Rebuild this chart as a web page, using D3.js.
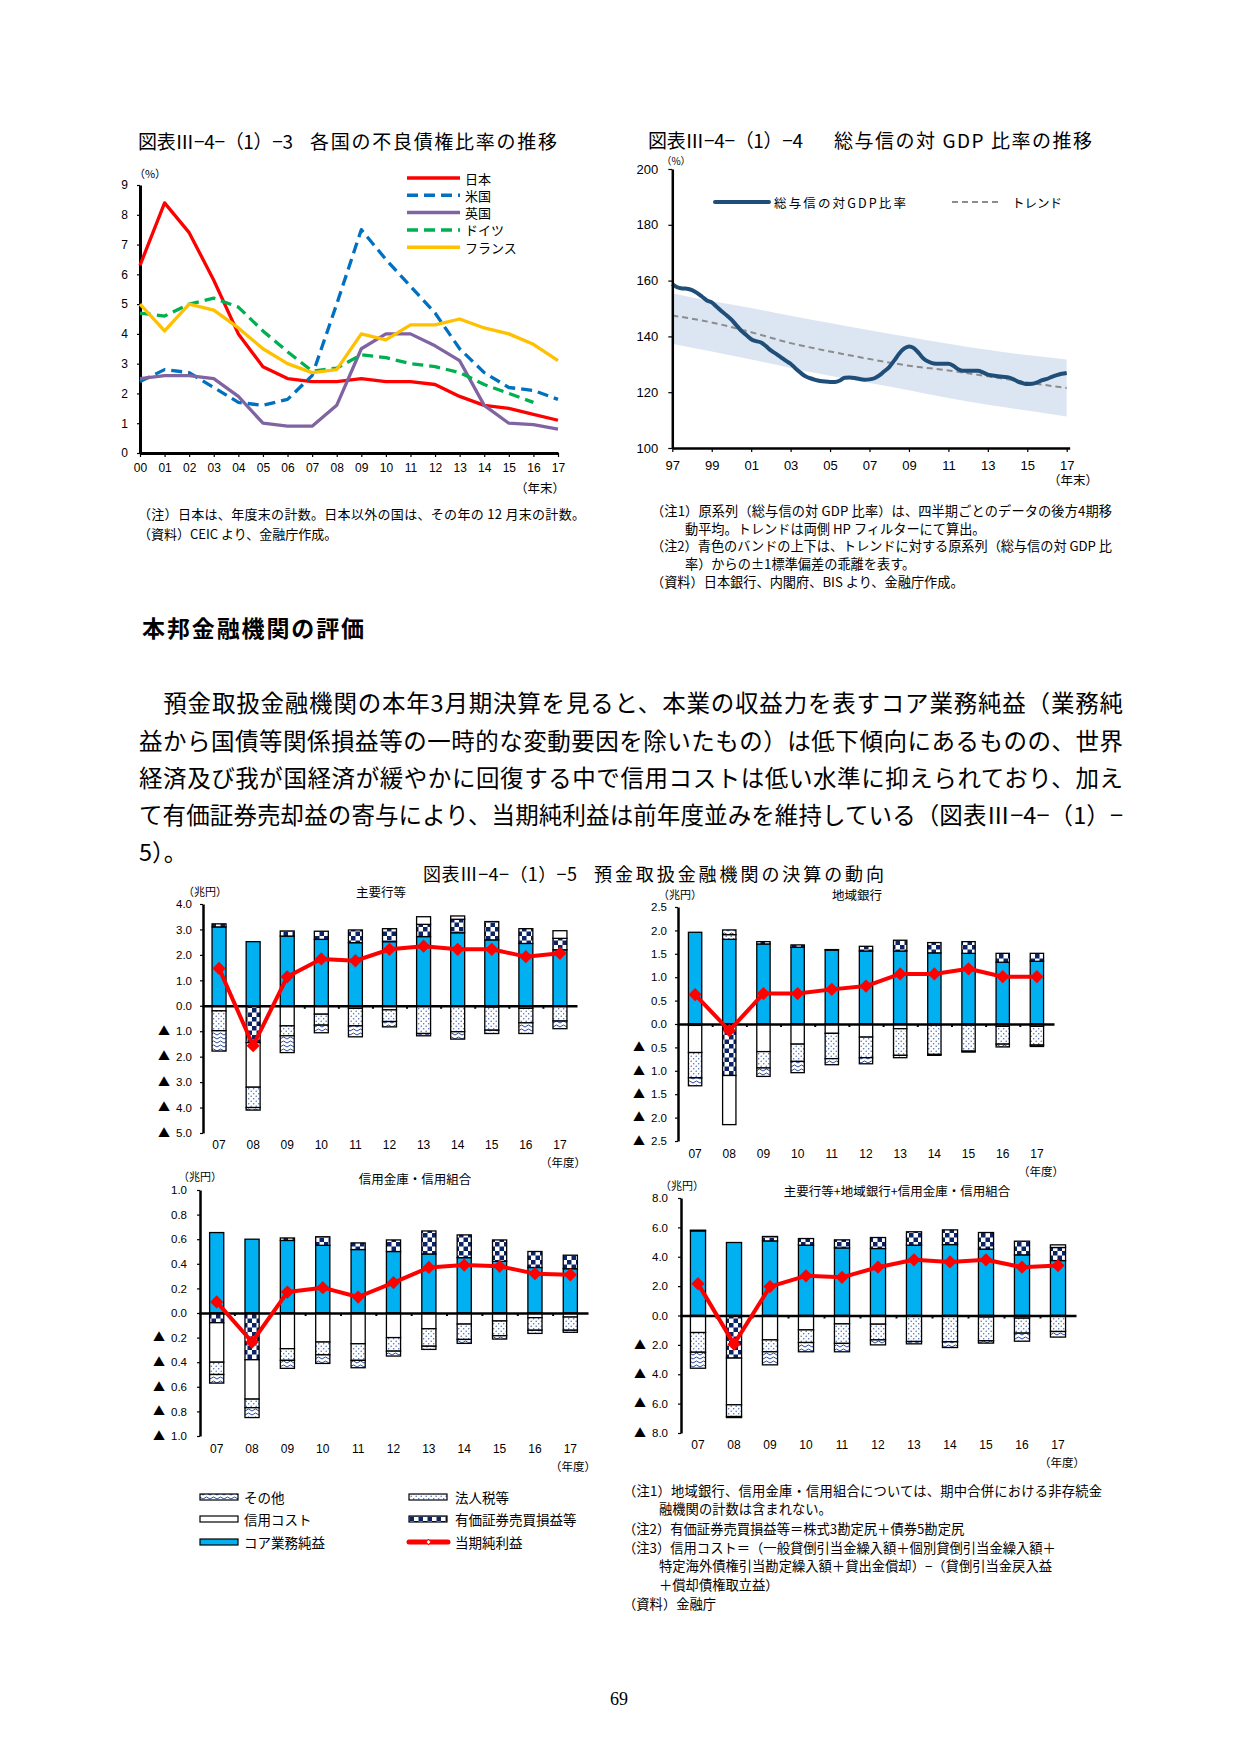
<!DOCTYPE html>
<html><head><meta charset="utf-8">
<script src="https://cdn.jsdelivr.net/npm/d3@7"></script>
<style>body{margin:0;background:#fff}</style>
</head><body>
<svg id="page" width="1240" height="1755" xmlns="http://www.w3.org/2000/svg"></svg>
<script>
// ---------- Chart 1: NPL ratios ----------
const nplYears = ["00","01","02","03","04","05","06","07","08","09","10","11","12","13","14","15","16","17"];
const nplJapan   = [6.3,8.4,7.4,5.8,4.0,2.9,2.5,2.4,2.4,2.5,2.4,2.4,2.3,1.9,1.6,1.5,1.3,1.1];
const nplUS      = [2.4,2.8,2.7,2.2,1.7,1.6,1.8,2.6,5.0,7.5,6.5,5.6,4.7,3.5,2.7,2.2,2.1,1.8];
const nplUK      = [2.5,2.6,2.6,2.5,1.9,1.0,0.9,0.9,1.6,3.5,4.0,4.0,3.6,3.1,1.6,1.0,0.95,0.8];
const nplGermany = [4.7,4.6,5.0,5.2,4.9,4.1,3.4,2.75,2.85,3.3,3.2,3.0,2.9,2.7,2.3,2.0,1.7];
const nplFrance  = [5.0,4.1,5.0,4.8,4.2,3.5,3.0,2.7,2.8,4.0,3.8,4.3,4.3,4.5,4.2,4.0,3.65,3.1];
const nplNames   = ["日本","米国","英国","ドイツ","フランス"];

// ---------- Chart 2: credit-to-GDP (quarterly from 1997Q1) ----------
const gdpStartYear = 1997;
const creditGDP = [158.8,157.6,157.2,157.1, 156.6,155.6,154.3,152.9, 152.2,150.6,149,147.6,
  146,144,142,140.5, 139,138.3,137.8,136.5, 135,133.8,132.6,131.3, 130.2,128.5,127,125.7,
  125,124.4,124,123.8, 123.7,123.7,124.2,125.2, 125.3,125.1,124.7,124.5, 124.6,125,126,127.5,
  129,131.3,133.8,135.6, 136.4,135.8,134,132, 130.9,130.3,130.2,130.2, 130.2,129.5,128.2,127.7,
  127.7,127.7,127.7,127.1, 126.3,126,125.7,125.5, 125.4,124.8,123.9,123.3, 122.9,123,123.5,124.3,
  124.8,125.5,126.1,126.6, 126.9];
const trendYears = [1997,1999,2001,2003,2005,2007,2009,2011,2013,2015,2017];
const trendValues = [147.5,145,141.5,137.6,134.6,131.9,129.5,127.8,125.7,123.5,121.5];
const bandUpper  = [155.5,152.6,150.2,147.4,144.8,142.2,139.8,137.4,135.2,133.3,131.7];
const bandLower  = [137.4,134.6,131.7,128.7,125.9,123.3,120.7,117.9,115.5,113.4,111.3];
const gdpTickYears = [1997,1999,2001,2003,2005,2007,2009,2011,2013,2015,2017];

// ---------- Chart 3: bank results (FY07-FY17, 兆円) ----------
const fyYears = ["07","08","09","10","11","12","13","14","15","16","17"];
const majorCore   = [3.1,2.52,2.74,2.61,2.48,2.52,2.72,2.87,2.59,2.45,2.2];
const majorSec    = [0.12,-1.45,0.2,0.32,0.5,0.51,0.48,0.53,0.72,0.58,0.45];
const majorCredit = [-0.2,-1.75,-0.79,-0.33,-0.1,-0.16,0.3,0.13,-0.05,-0.1,0.3];
const majorTax    = [-0.78,-0.8,-0.39,-0.43,-0.69,-0.46,-1.09,-1.02,-0.91,-0.57,-0.6];
const majorOther  = [-0.8,-0.1,-0.66,-0.3,-0.43,-0.21,-0.09,-0.29,-0.13,-0.42,-0.3];
const majorNet    = [1.47,-1.57,1.14,1.84,1.77,2.22,2.34,2.22,2.22,1.93,2.06];

const regCore   = [1.96,1.81,1.71,1.64,1.58,1.56,1.56,1.52,1.51,1.32,1.34];
const regSec    = [-0.03,-1.1,0.05,0.05,0.01,0.1,0.23,0.22,0.25,0.19,0.17];
const regCredit = [-0.58,-1.05,-0.59,-0.43,-0.2,-0.28,-0.1,-0.02,-0.02,-0.05,-0.05];
const regTax    = [-0.54,0.1,-0.35,-0.37,-0.54,-0.44,-0.57,-0.63,-0.56,-0.38,-0.4];
const regOther  = [-0.17,0.1,-0.18,-0.24,-0.13,-0.13,-0.05,-0.02,-0.02,-0.06,-0.03];
const regNet    = [0.63,-0.14,0.65,0.65,0.74,0.81,1.07,1.07,1.18,1.01,1.01];

const shinCore   = [0.654,0.6,0.59,0.55,0.516,0.5,0.48,0.45,0.42,0.37,0.36];
const shinSec    = [-0.079,-0.38,0.02,0.07,0.054,0.094,0.187,0.185,0.174,0.13,0.11];
const shinCredit = [-0.321,-0.32,-0.29,-0.236,-0.25,-0.2,-0.128,-0.09,-0.065,-0.038,-0.033];
const shinTax    = [-0.1,-0.07,-0.095,-0.104,-0.135,-0.11,-0.142,-0.125,-0.12,-0.102,-0.107];
const shinOther  = [-0.07,-0.08,-0.065,-0.07,-0.06,-0.04,-0.026,-0.032,-0.027,-0.026,-0.017];
const shinNet    = [0.09,-0.236,0.17,0.206,0.13,0.247,0.37,0.39,0.38,0.32,0.31];

const totCore   = [5.76,4.97,5.08,4.79,4.6,4.56,4.79,4.83,4.52,4.13,3.74];
const totSec    = [0.05,-2.9,0.3,0.45,0.55,0.75,0.91,1.0,1.13,0.93,0.89];
const totCredit = [-1.16,-3.18,-1.66,-0.98,-0.57,-0.59,0,0,-0.1,-0.18,0.18];
const totTax    = [-1.34,-0.8,-0.81,-0.86,-1.33,-1.07,-1.77,-1.79,-1.62,-1.02,-1.09];
const totOther  = [-1.09,-0.07,-0.89,-0.63,-0.57,-0.34,-0.16,-0.39,-0.16,-0.55,-0.38];
const totNet    = [2.17,-1.95,1.97,2.7,2.6,3.29,3.79,3.65,3.79,3.29,3.4];

const legendNames = {other:"その他", credit:"信用コスト", core:"コア業務純益", tax:"法人税等", sec:"有価証券売買損益等", net:"当期純利益"};

// ================= drawing =================
const JP = '"Noto Sans CJK JP", "Noto Sans", sans-serif';
const NUM = '"Liberation Sans", Arial, sans-serif';
const svg = d3.select("#page");
svg.append("rect").attr("width",1240).attr("height",1755).attr("fill","#fff");

function txt(x, y, s, o = {}) {
  const t = svg.append("text").attr("x", x).attr("y", y)
    .attr("dominant-baseline", "central")
    .attr("font-family", o.family || JP).attr("font-size", o.size || 13)
    .attr("font-weight", o.weight || "normal")
    .attr("text-anchor", o.anchor || "start").attr("fill", o.fill || "#000").text(s);
  if (o.width) t.attr("textLength", o.width).attr("lengthAdjust", "spacing");
  return t;
}
function styleAxis(g, size, family, domainWidth) {
  g.attr("font-family", family).attr("font-size", size);
  g.select(".domain").attr("stroke", "#000").attr("stroke-width", domainWidth);
  g.selectAll(".tick line").attr("stroke", "#000").attr("stroke-width", 1.2);
  g.selectAll(".tick text").attr("fill", "#000");
}

// patterns
const defs = svg.append("defs");
const pc = defs.append("pattern").attr("id","pChecker").attr("patternUnits","userSpaceOnUse").attr("width",9).attr("height",9);
pc.append("rect").attr("width",9).attr("height",9).attr("fill","#fff");
pc.append("rect").attr("width",4.5).attr("height",4.5).attr("fill","#0c2366");
pc.append("rect").attr("x",4.5).attr("y",4.5).attr("width",4.5).attr("height",4.5).attr("fill","#0c2366");
const pd = defs.append("pattern").attr("id","pDots").attr("patternUnits","userSpaceOnUse").attr("width",5).attr("height",5);
pd.append("rect").attr("width",5).attr("height",5).attr("fill","#fff");
pd.append("circle").attr("cx",1.2).attr("cy",1.2).attr("r",0.75).attr("fill","#4a6aae");
pd.append("circle").attr("cx",3.7).attr("cy",3.7).attr("r",0.75).attr("fill","#4a6aae");
const pw = defs.append("pattern").attr("id","pWave").attr("patternUnits","userSpaceOnUse").attr("width",7).attr("height",4);
pw.append("rect").attr("width",7).attr("height",4).attr("fill","#fff");
pw.append("path").attr("d","M0,3 L3.5,1 L7,3").attr("fill","none").attr("stroke","#2b4c9a").attr("stroke-width",1);

// ---------- Chart 1 ----------
txt(138, 140, "図表Ⅲ−4−（1）−3", {size:19, width:155});
txt(310, 140, "各国の不良債権比率の推移", {size:19, width:247});
{
  const x = d3.scaleLinear().domain([0, 17]).range([140, 558]);
  const y = d3.scaleLinear().domain([0, 9]).range([453, 185]);
  const ya = svg.append("g").attr("transform","translate(140,0)")
    .call(d3.axisLeft(y).ticks(9).tickSize(3).tickSizeOuter(0).tickPadding(9).tickFormat(d3.format("d")));
  styleAxis(ya, 12, NUM, 3);
  const xa = svg.append("g").attr("transform","translate(0,453)")
    .call(d3.axisBottom(x).tickValues(d3.range(0,18)).tickSize(4).tickSizeOuter(0).tickFormat(i => nplYears[i]));
  styleAxis(xa, 12, NUM, 3);
  xa.selectAll(".tick text").attr("y", 15).attr("dy", "0.35em");
  txt(150, 173, "（%）", {size:11, anchor:"middle"});
  txt(540, 487, "（年末）", {size:12.5, anchor:"middle"});

  const series = [
    {v:nplJapan, c:"#ff0000", dash:null},
    {v:nplUS, c:"#0070c0", dash:"11,6"},
    {v:nplUK, c:"#8064a2", dash:null},
    {v:nplGermany, c:"#00b050", dash:"11,6"},
    {v:nplFrance, c:"#ffc000", dash:null}
  ];
  const line = d3.line().x((d,i) => x(i)).y(d => y(d));
  series.forEach(s => {
    svg.append("path").datum(s.v).attr("d", line).attr("fill","none")
      .attr("stroke", s.c).attr("stroke-width", 3.3).attr("stroke-linejoin","round")
      .attr("stroke-dasharray", s.dash);
  });
  series.forEach((s, i) => {
    const yy = 178 + i * 17.3;
    svg.append("line").attr("x1",407).attr("x2",460).attr("y1",yy).attr("y2",yy)
      .attr("stroke", s.c).attr("stroke-width", 3.5).attr("stroke-dasharray", s.dash);
    txt(465, yy, nplNames[i], {size:13});
  });
  txt(138, 513, "（注）日本は、年度末の計数。日本以外の国は、その年の 12 月末の計数。", {size:13, width:447});
  txt(138, 533, "（資料）CEIC より、金融庁作成。", {size:13});
}

// ---------- Chart 2 ----------
txt(648, 139, "図表Ⅲ−4−（1）−4", {size:19, width:155});
txt(834, 139, "総与信の対 GDP 比率の推移", {size:19, width:258});
{
  const x = d3.scaleLinear().domain([1997, 2017]).range([672.3, 1066.7]);
  const y = d3.scaleLinear().domain([100, 200]).range([448, 169]);
  const band = d3.area().x((d,i) => x(trendYears[i])).y0((d,i) => y(bandLower[i])).y1(d => y(d)).curve(d3.curveMonotoneX);
  svg.append("path").datum(bandUpper).attr("d", band).attr("fill", "#dce6f2");
  const tl = d3.line().x((d,i) => x(trendYears[i])).y(d => y(d)).curve(d3.curveMonotoneX);
  svg.append("path").datum(trendValues).attr("d", tl).attr("fill","none")
    .attr("stroke","#8c8c8c").attr("stroke-width",2).attr("stroke-dasharray","6,4");
  const ml = d3.line().x((d,i) => x(gdpStartYear + i/4)).y(d => y(d)).curve(d3.curveMonotoneX);
  svg.append("path").datum(creditGDP).attr("d", ml).attr("fill","none")
    .attr("stroke","#1f4e79").attr("stroke-width",4).attr("stroke-linejoin","round");

  const ya = svg.append("g").attr("transform","translate(672.3,0)")
    .call(d3.axisLeft(y).tickValues([100,120,140,160,180,200]).tickSize(4).tickSizeOuter(0).tickPadding(10));
  styleAxis(ya, 13, NUM, 2.5);
  const xAxisScale = x.copy().domain([1997, 2017.15]).range([x(1997), x(2017.15)]);
  const xa = svg.append("g").attr("transform","translate(0,448)")
    .call(d3.axisBottom(xAxisScale).tickValues(gdpTickYears).tickSize(4).tickSizeOuter(0)
      .tickFormat(d => String(d % 100).padStart(2, "0")));
  styleAxis(xa, 13, NUM, 2.5);
  xa.selectAll(".tick text").attr("y", 17).attr("dy", "0.35em");
  txt(676, 160, "（%）", {size:10, anchor:"middle"});
  txt(1073, 479, "（年末）", {size:12.5, anchor:"middle"});
  svg.append("line").attr("x1",715).attr("x2",769).attr("y1",202).attr("y2",202)
    .attr("stroke","#1f4e79").attr("stroke-width",4).attr("stroke-linecap","round");
  txt(774, 202, "総与信の対GDP比率", {size:12.5, width:132});
  svg.append("line").attr("x1",952).attr("x2",1002).attr("y1",202).attr("y2",202)
    .attr("stroke","#8c8c8c").attr("stroke-width",2).attr("stroke-dasharray","6,4");
  txt(1012, 202, "トレンド", {size:12.5});

  txt(651, 510, "（注1）原系列（総与信の対 GDP 比率）は、四半期ごとのデータの後方4期移", {size:13.2, width:461});
  txt(685, 528, "動平均。トレンドは両側 HP フィルターにて算出。", {size:13.2});
  txt(651, 545, "（注2）青色のバンドの上下は、トレンドに対する原系列（総与信の対 GDP 比", {size:13.2, width:461});
  txt(685, 563, "率）からの±1標準偏差の乖離を表す。", {size:13.2});
  txt(651, 581, "（資料）日本銀行、内閣府、BIS より、金融庁作成。", {size:13.2});
}

// ---------- body text ----------
txt(142, 627, "本邦金融機関の評価", {size:23, weight:"bold", width:222});
const bodyLines = [
  "　預金取扱金融機関の本年3月期決算を見ると、本業の収益力を表すコア業務純益（業務純",
  "益から国債等関係損益等の一時的な変動要因を除いたもの）は低下傾向にあるものの、世界",
  "経済及び我が国経済が緩やかに回復する中で信用コストは低い水準に抑えられており、加え",
  "て有価証券売却益の寄与により、当期純利益は前年度並みを維持している（図表Ⅲ−4−（1）−",
  "5）。"
];
const bodyY = [702, 740, 777, 814, 851];
bodyLines.forEach((s, i) => txt(139, bodyY[i], s, {size:23.5, width: i < 4 ? 984 : null}));

txt(423, 873, "図表Ⅲ−4−（1）−5", {size:18, width:154});
txt(594, 873, "預金取扱金融機関の決算の動向", {size:18, width:290});

// ---------- Chart 3 panels ----------
const fills = {core:"#00b0f0", sec:"url(#pChecker)", credit:"#ffffff", tax:"url(#pDots)", other:"url(#pWave)"};
function panel(cfg) {
  const g = svg.append("g");
  const x = d3.scaleBand().domain(fyYears).range([cfg.x0, cfg.x1]).paddingInner(cfg.pad).paddingOuter(cfg.pad/2);
  const y = d3.scaleLinear().domain([cfg.min, cfg.max]).range([cfg.yBot, cfg.yTop]);
  const rows = fyYears.map((yr, i) => ({year: yr, core: cfg.core[i], sec: cfg.sec[i], credit: cfg.credit[i], tax: cfg.tax[i], other: cfg.other[i]}));
  const stacked = d3.stack().keys(["core","sec","credit","tax","other"]).offset(d3.stackOffsetDiverging)(rows);
  stacked.forEach(s => {
    g.append("g").selectAll("rect").data(s.filter(d => Math.abs(d[1]-d[0]) > 1e-9)).join("rect")
      .attr("x", d => x(d.data.year)).attr("width", x.bandwidth())
      .attr("y", d => y(Math.max(d[0], d[1]))).attr("height", d => Math.abs(y(d[0]) - y(d[1])))
      .attr("fill", fills[s.key]).attr("stroke", "#000").attr("stroke-width", 1.3);
  });
  // y axis
  const ya = g.append("g").attr("transform", `translate(${cfg.axisX},0)`)
    .call(d3.axisLeft(y).tickValues(cfg.ticks).tickSize(3).tickSizeOuter(0)
      .tickPadding(cfg.axisX - cfg.labelRight - 3).tickFormat(d => d3.format(".1f")(Math.abs(d))));
  styleAxis(ya, 11.5, NUM, 2.5);
  ya.selectAll(".tick").filter(d => d < -1e-9).append("text")
    .attr("x", cfg.triX - cfg.axisX).attr("dy", "0.35em").attr("text-anchor", "middle")
    .attr("font-family", JP).attr("font-size", 12).attr("fill", "#000").text("▲");
  // zero axis with category boundary ticks
  const bnd = d3.scaleLinear().domain([0, fyYears.length]).range([cfg.x0, cfg.x1]);
  const za = g.append("g").attr("transform", `translate(0,${y(0)})`)
    .call(d3.axisBottom(bnd).tickValues(d3.range(1, fyYears.length)).tickSize(3).tickSizeOuter(0).tickFormat(""));
  styleAxis(za, 11, NUM, 2.5);
  za.selectAll(".tick line").attr("stroke-width", 2);
  // category labels at bottom
  const ca = g.append("g").attr("transform", `translate(0,${cfg.catY})`)
    .call(d3.axisBottom(x).tickSize(0).tickPadding(0));
  ca.select(".domain").remove();
  ca.attr("font-family", NUM).attr("font-size", 12);
  ca.selectAll(".tick text").attr("y", 0).attr("dy", "0.35em").attr("fill", "#000");
  // net profit line + diamonds
  const cx = yr => x(yr) + x.bandwidth() / 2;
  g.append("path").datum(cfg.net).attr("d", d3.line().x((d,i) => cx(fyYears[i])).y(d => y(d)))
    .attr("fill","none").attr("stroke","#ff0000").attr("stroke-width",4).attr("stroke-linejoin","round");
  g.append("g").selectAll("path").data(cfg.net).join("path")
    .attr("d", d3.symbol(d3.symbolSquare, 88))
    .attr("transform", (d,i) => `translate(${cx(fyYears[i])},${y(d)}) rotate(45)`)
    .attr("fill", "#ff0000");
  txt(cfg.unit[0], cfg.unit[1], "（兆円）", {size:11, anchor:"middle"});
  txt(cfg.titlePos[0], cfg.titlePos[1], cfg.title, {size:12.5, anchor:"middle"});
  txt(cfg.yearPos[0], cfg.yearPos[1], "（年度）", {size:11.5, anchor:"middle"});
}

panel({core:majorCore, sec:majorSec, credit:majorCredit, tax:majorTax, other:majorOther, net:majorNet,
  x0:202, x1:577, pad:0.59, axisX:203, min:-5, max:4, yBot:1133, yTop:904,
  ticks:d3.range(-5, 5, 1), labelRight:192, triX:164, catY:1145,
  unit:[205,891], title:"主要行等", titlePos:[381,891], yearPos:[563,1162]});
panel({core:regCore, sec:regSec, credit:regCredit, tax:regTax, other:regOther, net:regNet,
  x0:678, x1:1054, pad:0.61, axisX:678, min:-2.5, max:2.5, yBot:1141, yTop:907,
  ticks:d3.range(-25, 26, 5).map(v => v/10), labelRight:667, triX:639, catY:1154,
  unit:[680,894], title:"地域銀行", titlePos:[857,894], yearPos:[1041,1171]});
panel({core:shinCore, sec:shinSec, credit:shinCredit, tax:shinTax, other:shinOther, net:shinNet,
  x0:199, x1:588, pad:0.6, axisX:200, min:-1, max:1, yBot:1436, yTop:1190,
  ticks:d3.range(-10, 11, 2).map(v => v/10), labelRight:187, triX:159, catY:1449,
  unit:[200,1176], title:"信用金庫・信用組合", titlePos:[415,1178], yearPos:[573,1466]});
panel({core:totCore, sec:totSec, credit:totCredit, tax:totTax, other:totOther, net:totNet,
  x0:680, x1:1076, pad:0.58, axisX:681, min:-8, max:8, yBot:1433, yTop:1198,
  ticks:d3.range(-8, 9, 2), labelRight:668, triX:640, catY:1445,
  unit:[682,1185], title:"主要行等+地域銀行+信用金庫・信用組合", titlePos:[897,1190], yearPos:[1062,1462]});

// legend
const legendItems = [
  {k:"other", x:200, y:1497}, {k:"credit", x:200, y:1519}, {k:"core", x:200, y:1542},
  {k:"tax", x:409, y:1497}, {k:"sec", x:409, y:1519}, {k:"net", x:409, y:1542}
];
legendItems.forEach(it => {
  if (it.k === "net") {
    svg.append("line").attr("x1", it.x).attr("x2", it.x + 39).attr("y1", it.y).attr("y2", it.y)
      .attr("stroke", "#ff0000").attr("stroke-width", 5).attr("stroke-linecap","round");
    svg.append("path").attr("d", d3.symbol(d3.symbolSquare, 14)())
      .attr("transform", `translate(${it.x + 19.5},${it.y}) rotate(45)`)
      .attr("fill", "#fff").attr("stroke", "#ff0000").attr("stroke-width", 1);
  } else {
    svg.append("rect").attr("x", it.x).attr("y", it.y - 3).attr("width", 38).attr("height", 6)
      .attr("fill", fills[it.k]).attr("stroke", "#000").attr("stroke-width", 1.2);
  }
  txt(it.x + (it.x < 300 ? 44 : 46), it.y, legendNames[it.k], {size:13.5});
});

// bottom notes
const notes = [
  {x:623, y:1490, s:"（注1）地域銀行、信用金庫・信用組合については、期中合併における非存続金", w:479},
  {x:659, y:1508, s:"融機関の計数は含まれない。"},
  {x:623, y:1528, s:"（注2）有価証券売買損益等＝株式3勘定尻＋債券5勘定尻"},
  {x:623, y:1547, s:"（注3）信用コスト＝（一般貸倒引当金繰入額＋個別貸倒引当金繰入額＋"},
  {x:659, y:1565, s:"特定海外債権引当勘定繰入額＋貸出金償却）−（貸倒引当金戻入益"},
  {x:659, y:1584, s:"＋償却債権取立益）"},
  {x:623, y:1603, s:"（資料）金融庁"}
];
notes.forEach(n => txt(n.x, n.y, n.s, {size:13.3, width:n.w}));

txt(619, 1699, "69", {size:18, family:'"Liberation Serif", "DejaVu Serif", serif', anchor:"middle"});
</script>
</body></html>
